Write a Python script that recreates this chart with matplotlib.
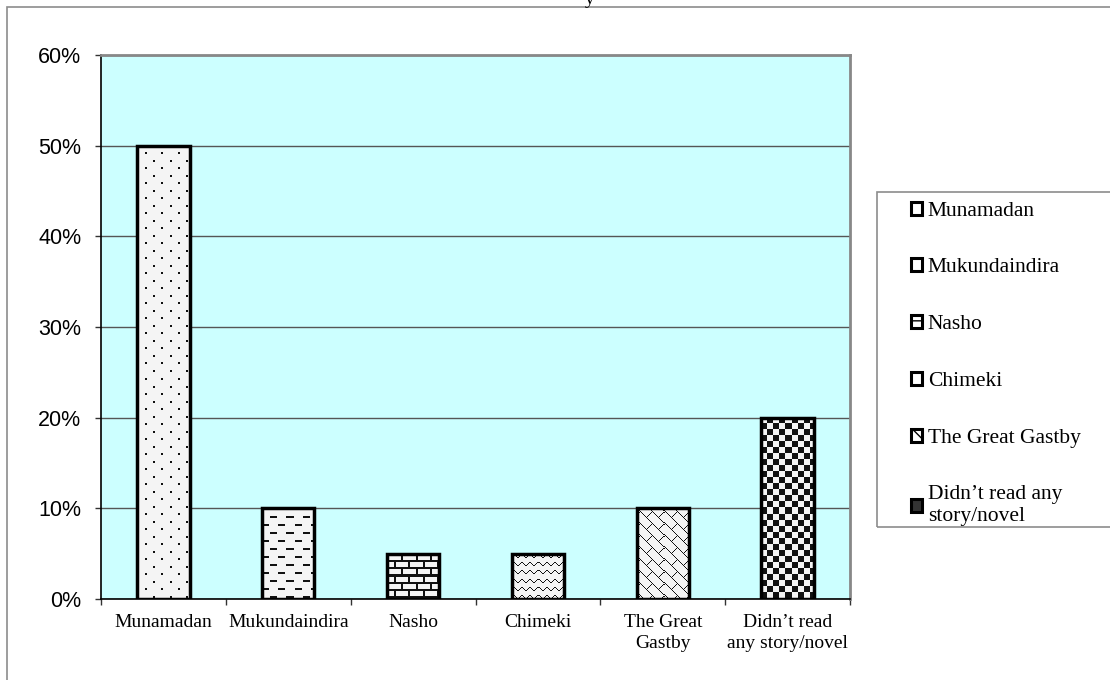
import matplotlib

matplotlib.use("Agg")
import matplotlib.pyplot as plt
import numpy as np
from matplotlib.colors import ListedColormap
from matplotlib.patches import Rectangle
from matplotlib.ticker import FuncFormatter, MultipleLocator, FixedLocator

categories = ["Munamadan", "Mukundaindira", "Nasho", "Chimeki", "The Great Gastby",
              "Didn\u2019t read any story/novel"]
tick_labels = ["Munamadan", "Mukundaindira", "Nasho", "Chimeki", "The Great\nGastby",
               "Didn\u2019t read\nany story/novel"]
legend_labels = ["Munamadan", "Mukundaindira", "Nasho", "Chimeki", "The Great Gastby",
                 "Didn\u2019t read any\nstory/novel"]
shares = [0.50, 0.10, 0.05, 0.05, 0.10, 0.20]
textures = ["dots", "dashes", "bricks", "waves", "weave", "checker"]

W, H = 1110, 680
serif = ["Liberation Serif", "DejaVu Serif"]
sans = ["Liberation Sans", "DejaVu Sans"]


def tile_for(kind):
    """Small binary tile (1 = dark pixel) for the Excel-like fill patterns."""
    if kind == "dots":
        t = np.zeros((15, 16))
        t[0:2, 0:2] = 1
        t[7:9, 8:10] = 1
    elif kind == "dashes":
        t = np.zeros((16, 16))
        t[0:2, 0:7] = 1
        t[8:10, 8:15] = 1
    elif kind == "bricks":
        t = np.zeros((14, 14))
        t[0:2, :] = 1
        t[7:9, :] = 1
        t[2:7, 0:2] = 1
        t[9:14, 7:9] = 1
    elif kind == "waves":
        t = np.zeros((8, 8))
        for c, r in enumerate([2, 1, 1, 2, 3, 4, 4, 3]):
            t[r, c] = 1
    elif kind == "weave":
        t = np.zeros((12, 12))
        r, c = np.indices(t.shape)
        t[(r - c) % 12 == 0] = 1
        t[((r + c) % 12 == 6) & (r >= 3) & (r <= 8)] = 1
    else:  # checker
        r, c = np.indices((12, 12))
        t = ((r // 6 + c // 6) % 2).astype(float)
    return t


fig = plt.figure(figsize=(W / 100, H / 100), dpi=100)
# outer chart border (only top and left show)
fig.patches.append(Rectangle((7 / W, -0.1), 1.2, 1 - 7 / H + 0.1, transform=fig.transFigure,
                             fill=False, edgecolor="#8c8c8c", linewidth=1.2))
# chart title is cut off by the top edge, only the descender shows
fig.text(590 / W, 1 - 4 / H, "y", family=serif, fontsize=14, ha="center", va="baseline")

ax = fig.add_axes([101 / W, 1 - 599 / H, 749 / W, 544 / H])
ax.set_facecolor("#ccffff")
x = np.arange(len(categories))
ax.set_xlim(-0.5, len(categories) - 0.5)
ax.set_ylim(0, 0.6)
bars = ax.bar(x, shares, width=0.42, color="#f4f4f4", edgecolor="black", linewidth=2.5,
              zorder=4)

# pattern fills, one screen pixel per image pixel
cmap = ListedColormap(["#f4f4f4", "#111111"])
for b, kind in zip(bars, textures):
    bx, bw, bh = b.get_x(), b.get_width(), b.get_height()
    p0 = ax.transData.transform((bx, 0))
    p1 = ax.transData.transform((bx + bw, bh))
    wpx, hpx = int(round(p1[0] - p0[0])), int(round(p1[1] - p0[1]))
    t = tile_for(kind)
    img = np.tile(t, (hpx // t.shape[0] + 2, wpx // t.shape[1] + 2))[:hpx, :wpx]
    ax.imshow(img, cmap=cmap, vmin=0, vmax=1, extent=(bx, bx + bw, 0, bh), aspect="auto",
              interpolation="nearest", zorder=3)
    b.set_facecolor("none")

ax.yaxis.set_major_locator(MultipleLocator(0.1))
ax.yaxis.set_major_formatter(FuncFormatter(lambda v, _: f"{v * 100:.0f}%"))
ax.grid(axis="y", color="#555555", linewidth=1.0, zorder=1)
ax.set_axisbelow(True)

ax.set_xticks(x)
ax.set_xticklabels(tick_labels, family=serif, fontsize=14, linespacing=1.25)
ax.tick_params(axis="x", which="major", length=0, pad=11)
ax.xaxis.set_minor_locator(FixedLocator(np.arange(len(categories) + 1) - 0.5))
ax.tick_params(axis="x", which="minor", length=4.3, width=1, color="#333333")
ax.tick_params(axis="y", length=4.3, width=1, color="#333333", pad=10)
for lbl in ax.get_yticklabels():
    lbl.set_family(sans)
    lbl.set_fontsize(15.5)

for s in ["left", "bottom"]:
    ax.spines[s].set_color("black")
    ax.spines[s].set_linewidth(1.2)
for s in ["top", "right"]:
    ax.spines[s].set_color("#888888")
    ax.spines[s].set_linewidth(2)

# legend box runs past the right edge of the image
fig.patches.append(Rectangle((877 / W, 1 - 527 / H), 0.3, 335 / H, transform=fig.transFigure,
                             fill=False, edgecolor="#8c8c8c", linewidth=1.2))
handle_hatch = [None, None, "--", None, "\\\\", None]
handles = [Rectangle((0, 0), 1, 1, facecolor="white", edgecolor="black", linewidth=2.2,
                     hatch=h) for h in handle_hatch]
handles[-1].set_facecolor("#333333")
fig.legend(handles, legend_labels, loc="upper left",
           bbox_to_anchor=(902 / W, 1 - 193 / H), frameon=False,
           prop={"family": serif, "size": 15.5}, handlelength=0.55, handleheight=0.55,
           handletextpad=0.25, labelspacing=1.75, borderaxespad=0)

fig.savefig("out.png", dpi=100)
